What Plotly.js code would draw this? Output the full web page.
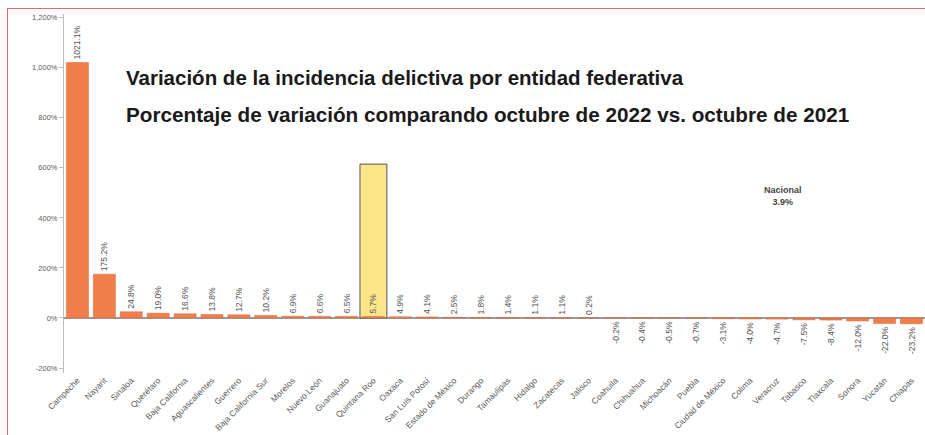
<!DOCTYPE html>
<html>
<head>
<meta charset="utf-8">
<script src="https://cdn.plot.ly/plotly-3.0.1.min.js"></script>
<style>
  html, body { margin: 0; padding: 0; background: #fff; }
  #frame { position: absolute; left: 7px; top: 8px; width: 918px; height: 427px;
           border-top: 1.5px solid #E8686A; border-left: 1.5px solid #E8686A; }
  #chart { position: absolute; left: 0; top: 0; width: 925px; height: 435px; }
</style>
</head>
<body>
<div id="frame"></div>
<div id="chart"></div>
<script>
const estados = ['Campeche','Nayarit','Sinaloa','Querétaro','Baja California','Aguascalientes','Guerrero',
  'Baja California Sur','Morelos','Nuevo León','Guanajuato','Quintana Roo','Oaxaca','San Luis Potosí',
  'Estado de México','Durango','Tamaulipas','Hidalgo','Zacatecas','Jalisco','Coahuila','Chihuahua',
  'Michoacán','Puebla','Ciudad de México','Colima','Veracruz','Tabasco','Tlaxcala','Sonora','Yucatán','Chiapas'];
const variacion = [1021.1, 175.2, 24.8, 19.0, 16.6, 13.8, 12.7, 10.2, 6.9, 6.6, 6.5, 5.7, 4.9, 4.1,
  2.5, 1.8, 1.4, 1.1, 1.1, 0.2, -0.2, -0.4, -0.5, -0.7, -3.1, -4.0, -4.7, -7.5, -8.4, -12.0, -22.0, -23.2];
const destacado = ['Quintana Roo'];
const destacadoValor = [615];
const nacional = 3.9;
const yTicks = [-200, 0, 200, 400, 600, 800, 1000, 1200];
const yTickText = ['-200%', '0%', '200%', '400%', '600%', '800%', '1,000%', '1,200%'];

const fmt = v => v.toFixed(1) + '%';

const traces = [
  {
    type: 'bar', x: destacado, y: destacadoValor, width: 1,
    marker: { color: '#FDE58A', line: { color: '#555', width: 1 } },
    hoverinfo: 'skip', showlegend: false
  },
  {
    type: 'bar', x: estados, y: variacion,
    marker: { color: '#EF7E4B', line: { color: '#D9693A', width: 0.5 } },
    text: variacion.map(fmt), textposition: 'outside', textangle: -90,
    cliponaxis: false, constraintext: 'none',
    textfont: { family: 'Liberation Sans, Arial, sans-serif', size: 8.5, color: '#555' },
    showlegend: false
  }
];

const layout = {
  width: 925, height: 435,
  margin: { l: 64, r: 0, t: 14, b: 62 },
  paper_bgcolor: 'rgba(0,0,0,0)', plot_bgcolor: 'rgba(0,0,0,0)',
  barmode: 'overlay', bargap: 0.18,
  font: { family: 'Liberation Sans, Arial, sans-serif', color: '#666', size: 7 },
  xaxis: {
    type: 'category', categoryorder: 'array', categoryarray: estados,
    range: [-0.5, 31.5], tickangle: -45, automargin: false,
    showline: false, ticks: '', showgrid: false, fixedrange: true,
    tickfont: { size: 8.5, color: '#5a5a5a' }
  },
  yaxis: {
    range: [-220, 1215], tickvals: yTicks, ticktext: yTickText, automargin: false,
    showline: true, linecolor: '#BBB', linewidth: 1, ticks: 'outside', ticklen: 4, tickcolor: '#BBB',
    showgrid: false, zeroline: true, zerolinecolor: '#9A9A9A', zerolinewidth: 2,
    tickfont: { size: 7.5, color: '#5a5a5a' }, fixedrange: true
  },
  annotations: [
    { xref: 'paper', yref: 'paper', x: 0.07, y: 0.824, xanchor: 'left', yanchor: 'middle', showarrow: false,
      text: 'Variación de la incidencia delictiva por entidad federativa',
      font: { family: 'Liberation Sans, Arial, sans-serif', size: 20.5, color: '#1a1a1a', weight: 'bold' } },
    { xref: 'paper', yref: 'paper', x: 0.07, y: 0.719, xanchor: 'left', yanchor: 'middle', showarrow: false,
      text: 'Porcentaje de variación comparando octubre de 2022 vs. octubre de 2021',
      font: { family: 'Liberation Sans, Arial, sans-serif', size: 20.7, color: '#1a1a1a', weight: 'bold' } },
    { xref: 'paper', yref: 'paper', x: 0.835, y: 0.493, xanchor: 'center', yanchor: 'middle', showarrow: false,
      text: '<b>Nacional</b><br><b>' + nacional.toFixed(1) + '%</b>',
      font: { family: 'Liberation Sans, Arial, sans-serif', size: 9, color: '#444' } }
  ]
};

Plotly.newPlot('chart', traces, layout, { displayModeBar: false, staticPlot: true });
</script>
</body>
</html>
